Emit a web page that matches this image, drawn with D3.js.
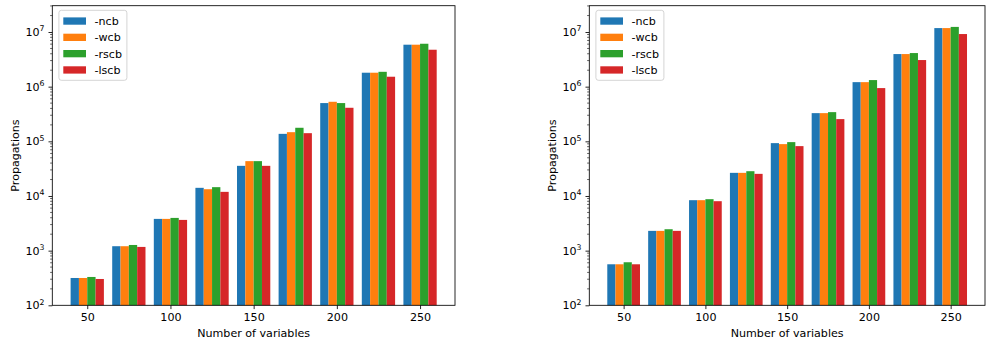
<!DOCTYPE html>
<html>
<head>
<meta charset="utf-8">
<script src="https://cdn.jsdelivr.net/npm/d3@7"></script>
<style>
  body { margin: 0; background: #fff; }
  svg { display: block; font-family: "DejaVu Sans", sans-serif; }
</style>
</head>
<body>
<svg id="chart" width="986" height="343"></svg>
<script>
// data
const variables = [50, 75, 100, 125, 150, 175, 200, 225, 250];
const seriesNames = ['-ncb', '-wcb', '-rscb', '-lscb'];
const colors = ['#1f77b4', '#ff7f0e', '#2ca02c', '#d62728'];
const xTicks = [50, 100, 150, 200, 250];
const yTicks = [1e2, 1e3, 1e4, 1e5, 1e6, 1e7];

// left panel
const ncbLeft  = [316, 1205, 3810, 14100, 35600, 137000, 501000, 1.80e6, 5.86e6];
const wcbLeft  = [316, 1205, 3810, 13300, 43400, 147000, 529000, 1.80e6, 5.86e6];
const rscbLeft = [330, 1270, 3970, 14500, 43400, 177000, 501000, 1.87e6, 6.10e6];
const lscbLeft = [303, 1170, 3650, 11900, 35600, 141000, 411000, 1.52e6, 4.74e6];

// right panel
const ncbRight  = [563, 2300, 8380, 26500, 92700, 328000, 1.21e6, 3.95e6, 1.18e7];
const wcbRight  = [563, 2300, 8380, 26500, 88900, 328000, 1.21e6, 3.95e6, 1.18e7];
const rscbRight = [613, 2465, 8740, 28400, 96700, 342000, 1.32e6, 4.12e6, 1.24e7];
const lscbRight = [563, 2300, 8030, 25400, 81700, 255000, 9.42e5, 3.07e6, 9.18e6];

const panels = [
  { left: 52.3, right: 455, series: [ncbLeft, wcbLeft, rscbLeft, lscbLeft] },
  { left: 589.3, right: 985, series: [ncbRight, wcbRight, rscbRight, lscbRight] }
];
const plotTop = 5.7, plotBottom = 305.3;
const barW = 5;
const fs = 11.1;

const svg = d3.select('#chart');

panels.forEach(p => {
  const x = d3.scaleLinear().domain([29, 271]).range([p.left, p.right]);
  const y = d3.scaleLog().domain([100, 3.03e7]).range([plotBottom, plotTop]);
  const g = svg.append('g');

  // bars
  p.series.forEach((vals, si) => {
    g.selectAll(null)
      .data(vals)
      .enter()
      .append('rect')
      .attr('x', (d, i) => x(variables[i] + (si - 2) * barW))
      .attr('width', (d, i) => x(variables[i] + (si - 1) * barW) - x(variables[i] + (si - 2) * barW))
      .attr('y', d => y(d))
      .attr('height', d => plotBottom - y(d))
      .attr('fill', colors[si]);
  });

  // x axis
  const xa = g.append('g')
    .attr('transform', `translate(0,${plotBottom})`)
    .call(d3.axisBottom(x).tickValues(xTicks).tickSize(3.8).tickPadding(3.6));
  xa.select('.domain').remove();

  // y axis: major ticks
  const ya = g.append('g')
    .attr('transform', `translate(${p.left},0)`)
    .call(d3.axisLeft(y).tickValues(yTicks).tickSize(3.8).tickPadding(4)
      .tickFormat(d => ''));
  ya.select('.domain').remove();
  ya.selectAll('.tick text').each(function (d) {
    const t = d3.select(this);
    const e = Math.round(Math.log10(d));
    t.append('tspan').text('10');
    t.append('tspan').attr('font-size', fs * 0.7).attr('dy', -4.8).text(e);
  });

  // y minor ticks
  const minors = [];
  for (let e = 2; e <= 7; e++) {
    for (let m = 2; m <= 9; m++) {
      const v = m * Math.pow(10, e);
      if (v <= 3.03e7) minors.push(v);
    }
  }
  g.selectAll(null).data(minors).enter().append('line')
    .attr('x1', p.left).attr('x2', p.left - 2.2)
    .attr('y1', d => y(d)).attr('y2', d => y(d))
    .attr('stroke', '#000').attr('stroke-width', 0.6);

  g.selectAll('.tick line').attr('stroke-width', 0.85);
  g.selectAll('.tick text').attr('font-size', fs).attr('fill', '#000')
    .attr('font-family', '"DejaVu Sans", sans-serif');

  // frame
  g.append('rect')
    .attr('x', p.left).attr('y', plotTop)
    .attr('width', p.right - p.left).attr('height', plotBottom - plotTop)
    .attr('fill', 'none').attr('stroke', '#000').attr('stroke-width', 0.85);

  // axis labels
  g.append('text')
    .attr('x', (p.left + p.right) / 2).attr('y', 336.7)
    .attr('text-anchor', 'middle').attr('font-size', fs)
    .text('Number of variables');
  g.append('text')
    .attr('transform', `translate(${p.left - 33.2},${(plotTop + plotBottom) / 2}) rotate(-90)`)
    .attr('text-anchor', 'middle').attr('font-size', fs)
    .text('Propagations');

  // legend
  const lx = p.left + 6.6, ly = 10.3;
  const lg = g.append('g');
  lg.append('rect')
    .attr('x', lx).attr('y', ly).attr('width', 68).attr('height', 70)
    .attr('rx', 2.5).attr('fill', '#fff').attr('fill-opacity', 0.8)
    .attr('stroke', '#ccc').attr('stroke-width', 0.85);
  seriesNames.forEach((name, i) => {
    const cy = 21 + i * 16.3;
    lg.append('rect')
      .attr('x', lx + 4.4).attr('y', cy - 3.6)
      .attr('width', 22.7).attr('height', 7.3)
      .attr('fill', colors[i]);
    lg.append('text')
      .attr('x', lx + 35.6).attr('y', cy + 4)
      .attr('font-size', fs)
      .text(name);
  });
});
</script>
</body>
</html>
